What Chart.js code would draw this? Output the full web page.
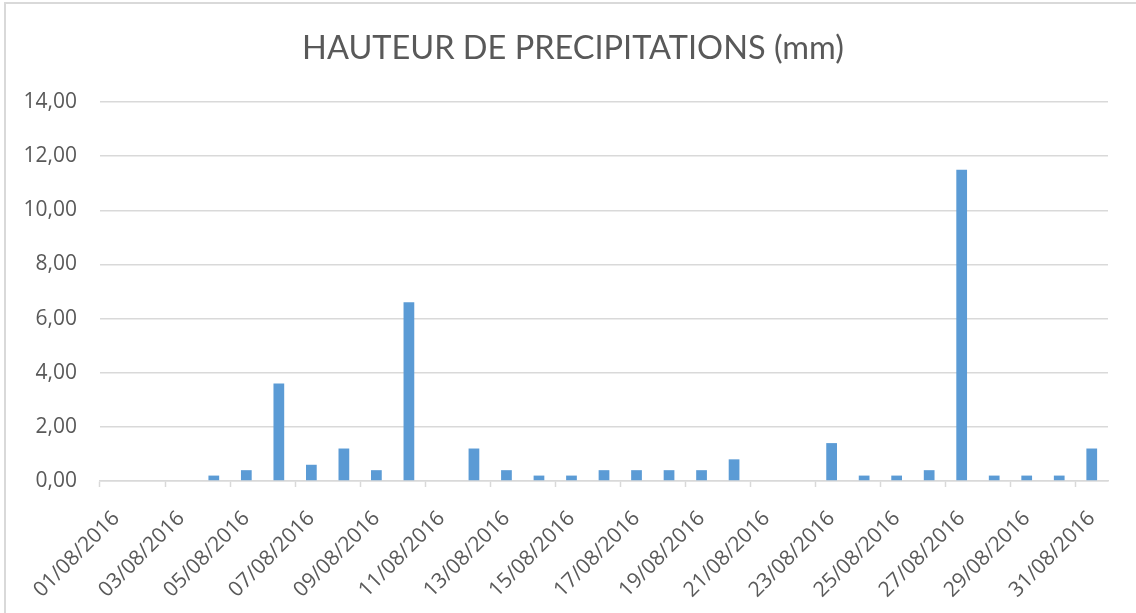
<!DOCTYPE html>
<html>
<head>
<meta charset="utf-8">
<script src="https://cdn.jsdelivr.net/npm/chart.js@4.4.1/dist/chart.umd.min.js"></script>
<style>
  html, body { margin: 0; padding: 0; background: #fff; overflow: hidden; }
  #wrap { position: relative; width: 1136px; height: 613px; }
  #frame { position: absolute; left: 4px; top: 2px; width: 1200px; height: 700px;
           border: 2px solid #d9d9d9; pointer-events: none; }
</style>
</head>
<body>
<div id="wrap">
  <canvas id="chart" width="1136" height="613"></canvas>
  <div id="frame"></div>
</div>
<script>
// daily rainfall, August 2016
const dates = [
  '01/08/2016', '02/08/2016', '03/08/2016', '04/08/2016', '05/08/2016', '06/08/2016',
  '07/08/2016', '08/08/2016', '09/08/2016', '10/08/2016', '11/08/2016', '12/08/2016',
  '13/08/2016', '14/08/2016', '15/08/2016', '16/08/2016', '17/08/2016', '18/08/2016',
  '19/08/2016', '20/08/2016', '21/08/2016', '22/08/2016', '23/08/2016', '24/08/2016',
  '25/08/2016', '26/08/2016', '27/08/2016', '28/08/2016', '29/08/2016', '30/08/2016',
  '31/08/2016'
];
const rainMm = [
  0, 0, 0, 0.2, 0.4, 3.6, 0.6, 1.2, 0.4, 6.6, 0, 1.2, 0.4, 0.2, 0.2, 0.4,
  0.4, 0.4, 0.4, 0.8, 0, 0, 1.4, 0.2, 0.2, 0.4, 11.5, 0.2, 0.2, 0.2, 1.2
];
const yMin = 0;
const yMax = 14;
const yStep = 2;
const chartTitle = 'HAUTEUR DE PRECIPITATIONS (mm)';

const textColor = '#595959';
const gridColor = '#d9d9d9';

// title centred on the whole frame, not on the plot box
const titlePlugin = {
  id: 'frameTitle',
  afterDraw(chart) {
    const ctx = chart.ctx;
    ctx.save();
    ctx.fillStyle = textColor;
    ctx.font = 'normal 32.5px Lato';
    ctx.textAlign = 'center';
    ctx.textBaseline = 'alphabetic';
    ctx.fillText(chartTitle, 573, 59);
    ctx.restore();
  }
};

new Chart(document.getElementById('chart'), {
  type: 'bar',
  data: {
    labels: dates,
    datasets: [{
      label: 'Hauteur de précipitations',
      data: rainMm,
      backgroundColor: '#5b9bd5',
      barPercentage: 0.33,
      categoryPercentage: 1
    }]
  },
  options: {
    responsive: false,
    animation: false,
    layout: { padding: { left: 24, right: 28, top: 102, bottom: 0 } },
    plugins: {
      legend: { display: false },
      tooltip: { enabled: false },
      title: { display: false }
    },
    scales: {
      x: {
        offset: true,
        afterFit: scale => { scale.height = 132; },
        grid: {
          offset: true,
          drawOnChartArea: false,
          drawTicks: true,
          tickLength: 6,
          tickWidth: 1.5,
          tickColor: ctx => (ctx.index % 2 === 0 ? gridColor : 'rgba(0,0,0,0)')
        },
        border: { color: gridColor, width: 1.5 },
        ticks: {
          autoSkip: false,
          minRotation: 45,
          maxRotation: 45,
          padding: 19,
          color: textColor,
          font: { family: 'Open Sans', size: 21 },
          callback: (v, i) => (i % 2 === 0 ? dates[i] : '')
        }
      },
      y: {
        min: yMin,
        max: yMax,
        afterFit: scale => { scale.width = 76; },
        grid: { color: gridColor, lineWidth: 1.5, drawTicks: false },
        border: { display: false },
        ticks: {
          stepSize: yStep,
          padding: 23,
          color: textColor,
          font: { family: 'Open Sans', size: 21 },
          callback: v => v.toFixed(2).replace('.', ',')
        }
      }
    }
  },
  plugins: [titlePlugin]
});
</script>
</body>
</html>
